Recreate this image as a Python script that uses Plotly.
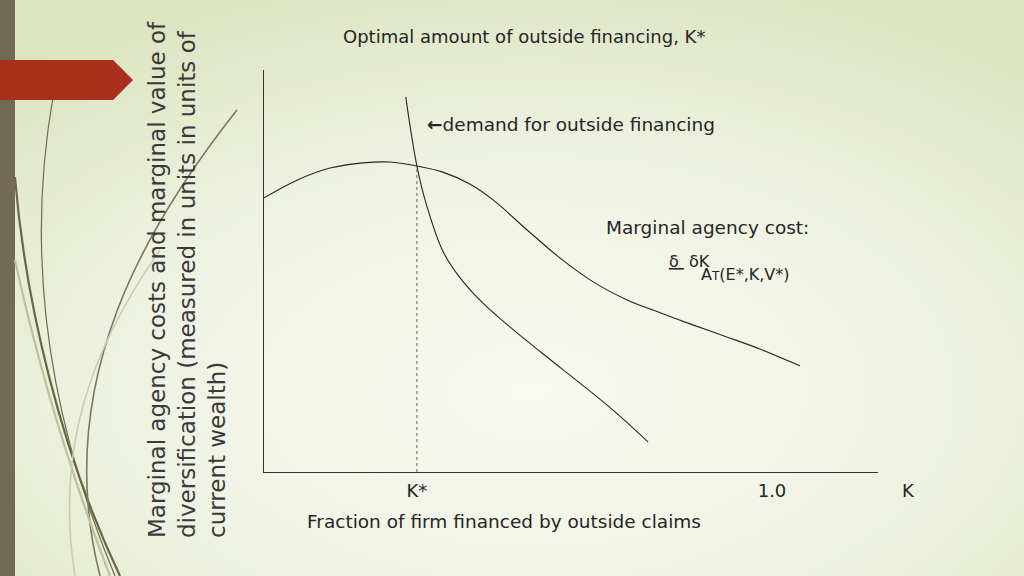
import base64

import plotly.graph_objects as go

# --- data (K on x, marginal cost / value on y, both in chart units) ---
K_STAR = 0.301
TICK_VALS = [K_STAR, 1.0]
TICK_TEXT = ["K*", "1.0"]

agency_k = [0.000, 0.065, 0.130, 0.195, 0.248, 0.301, 0.352, 0.406, 0.451,
            0.518, 0.583, 0.648, 0.715, 0.780, 0.844, 0.911, 0.976, 1.055]
agency_cost = [0.682, 0.726, 0.756, 0.769, 0.771, 0.761, 0.746, 0.716, 0.677,
               0.602, 0.532, 0.473, 0.428, 0.396, 0.366, 0.336, 0.306, 0.264]

demand_k = [0.279, 0.301, 0.320, 0.353, 0.386, 0.431, 0.484, 0.557, 0.622,
            0.687, 0.756]
demand_value = [0.933, 0.761, 0.664, 0.547, 0.483, 0.420, 0.361, 0.286, 0.221,
                0.154, 0.075]

W, H = 1024, 576
FONT = "DejaVu Sans"
INK = "#262626"


def px(x, y):
    # slide pixel -> paper fraction (margins are zero, so paper == page)
    return f"{x / W:.4f},{1 - y / H:.4f}"


def path(cmd):
    out = []
    for tok in cmd.split():
        if "," in tok:
            a, b = tok.split(",")
            out.append(px(float(a), float(b)))
        else:
            out.append(tok)
    return " ".join(out)


bg_svg = f"""<svg xmlns='http://www.w3.org/2000/svg' width='{W}' height='{H}'>
<defs><radialGradient id='g' cx='52%' cy='68%' r='75%'>
<stop offset='0' stop-color='#f8f9f3'/><stop offset='0.55' stop-color='#eef2e1'/>
<stop offset='1' stop-color='#dce4c0'/></radialGradient></defs>
<rect width='100%' height='100%' fill='url(#g)'/></svg>"""
bg_src = "data:image/svg+xml;base64," + base64.b64encode(bg_svg.encode()).decode()

fig = go.Figure()

# K* drop line up to where demand meets the agency-cost curve
fig.add_trace(go.Scatter(
    x=[K_STAR, K_STAR], y=[0, demand_value[demand_k.index(K_STAR)]],
    mode="lines", line={"color": "#666666", "width": 1, "dash": "dot"},
    hoverinfo="skip",
))
fig.add_trace(go.Scatter(
    x=agency_k, y=agency_cost, mode="lines",
    line={"color": INK, "width": 1.1, "shape": "spline", "smoothing": 1},
))
fig.add_trace(go.Scatter(
    x=demand_k, y=demand_value, mode="lines",
    line={"color": INK, "width": 1.1, "shape": "spline", "smoothing": 1},
))

# slide decorations
shapes = [
    {"type": "rect", "xref": "paper", "yref": "paper",
     "x0": 0, "x1": 15 / W, "y0": 0, "y1": 1,
     "fillcolor": "#716a56", "line": {"width": 0}, "layer": "below"},
    {"type": "path", "xref": "paper", "yref": "paper",
     "path": path("M 0,60 L 113,60 L 133,80 L 113,100 L 0,100 Z"),
     "fillcolor": "#a8301a", "line": {"width": 0}},
]
swooshes = [
    ("M 53,97 Q 12,330 115,576", "#6e6a4e", 1.2),
    ("M 15,177 C 25,300 60,450 120,576", "#6b6549", 2.2),
    ("M 237,110 C 150,220 50,380 100,576", "#7d7860", 1.6),
    ("M 15,260 Q 50,420 110,576", "#bcc29e", 2.2),
    ("M 160,250 C 90,350 55,450 75,576", "#c9ceaf", 1.6),
]
for d, color, width in swooshes:
    shapes.append({"type": "path", "xref": "paper", "yref": "paper",
                   "path": path(d), "line": {"color": color, "width": width},
                   "layer": "below"})


def note(text, x, y, size=18.5, **kw):
    return dict(text=text, x=x / W, y=1 - y / H, xref="paper", yref="paper",
                yanchor="middle", showarrow=False,
                font={"family": FONT, "size": size, "color": INK}, **kw)


annotations = [
    note("Optimal amount of outside financing, K*", 341, 36, size=18, xanchor="left"),
    note("<b>←</b>demand for outside financing", 425, 125, xanchor="left"),
    note("Marginal agency cost:", 604, 228, xanchor="left"),
    note("<u>δ </u> δK", 667, 261, size=16, xanchor="left"),
    note("A<span style='font-size:12px'>T</span>(E*,K,V*)", 699, 274, size=16, xanchor="left"),
    note("K", 908, 490, size=18, xanchor="center"),
    note("Fraction of firm financed by outside claims", 305, 521, xanchor="left"),
    dict(text="Marginal agency costs and marginal value of<br>"
              "diversification (measured in units in units of<br>"
              "current wealth)",
         x=187 / W, y=1 - 280 / H, xref="paper", yref="paper", showarrow=False,
         xanchor="center", yanchor="middle",
         textangle=-90, align="left",
         font={"family": FONT, "size": 23, "color": "#3a3a3a"}),
]

fig.update_layout(
    width=W, height=H,
    margin={"l": 0, "r": 0, "t": 0, "b": 0},
    paper_bgcolor="#eef2e1",
    plot_bgcolor="rgba(0,0,0,0)",
    showlegend=False,
    shapes=shapes,
    annotations=annotations,
    images=[{"source": bg_src, "xref": "paper", "yref": "paper",
             "x": 0, "y": 1, "sizex": 1, "sizey": 1,
             "sizing": "stretch", "layer": "below"}],
    xaxis={"domain": [264 / W, 878 / W], "range": [0, 614 / 508],
           "showgrid": False, "zeroline": False,
           "showline": True, "linecolor": "#333333", "linewidth": 1,
           "tickvals": TICK_VALS, "ticktext": TICK_TEXT, "ticks": "",
           "ticklabelstandoff": 2,
           "tickfont": {"family": FONT, "size": 18, "color": INK}},
    yaxis={"domain": [1 - 472 / H, 1 - 70 / H], "range": [0, 1],
           "showgrid": False, "zeroline": False, "showticklabels": False,
           "showline": True, "linecolor": "#333333", "linewidth": 1},
)

fig.write_html("out.html", config={"displayModeBar": False},
               post_script="document.body.style.margin = '0';")
